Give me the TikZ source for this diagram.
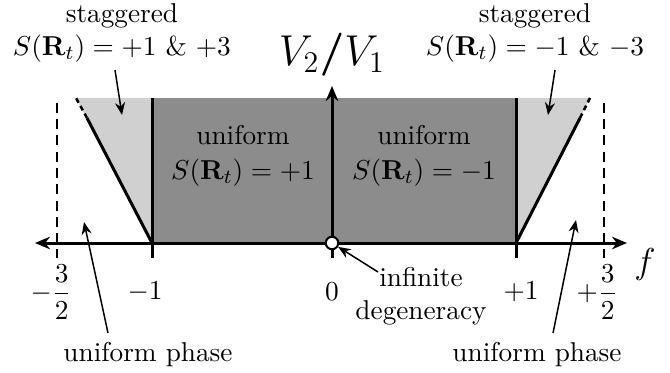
\documentclass[tikz,border=0pt]{standalone}
\usepackage{amsmath,bm}
\usetikzlibrary{arrows.meta}
\definecolor{darkreg}{HTML}{8C8C8C}
\definecolor{lightreg}{HTML}{D0D0D0}
\begin{document}
\begin{tikzpicture}[x=0.4pt,y=-0.4pt,
  axis/.style={line width=1.2pt,-{Stealth[length=6pt,width=5pt]}},
  pointer/.style={line width=0.6pt,-{Stealth[length=5pt,width=4pt]}},
  bound/.style={line width=1.2pt},
  lbl/.style={inner sep=0pt,font=\fontsize{10.9pt}{13pt}\selectfont}]
\useasboundingbox (0,0) rectangle (670,372);
% regions
\fill[darkreg] (152,98) rectangle (516,243);
\fill[lightreg] (76,98) -- (152,98) -- (152,243) -- cycle;
\fill[lightreg] (516,98) -- (590,98) -- (516,243) -- cycle;
% boundaries
\coordinate (lb) at (152,243);
\coordinate (lm) at (87,118);
\coordinate (lt) at (76,98);
\coordinate (rb) at (516,243);
\coordinate (rm) at (580,118);
\coordinate (rt) at (590,98);
\draw[bound] (lb) -- (lm);
\draw[line width=1pt,dash pattern=on 2pt off 1.5pt] (lm) -- (lt);
\draw[bound] (rb) -- (rm);
\draw[line width=1pt,dash pattern=on 2pt off 1.5pt] (rm) -- (rt);
\draw[bound] (152,98) -- (152,258);
\draw[bound] (516,98) -- (516,258);
\draw[bound] (332,243) -- (332,258);
% dashed f=+-3/2
\draw[line width=1.1pt,dash pattern=on 4pt off 2.5pt] (57,103) -- (57,258);
\draw[line width=1.1pt,dash pattern=on 4pt off 2.5pt] (604,103) -- (604,258);
% axes
\coordinate (o) at (332,243);
\coordinate (xl) at (35,243);
\coordinate (xr) at (627,243);
\coordinate (yt) at (332,86);
\draw[axis] (o) -- (xl);
\draw[axis] (o) -- (xr);
\draw[axis] (o) -- (yt);
\node[circle,draw,fill=white,line width=0.8pt,minimum size=5pt,inner sep=0pt] (c) at (o) {};
% axis labels
\node[lbl,font=\LARGE] (v) at (332,55) {$V_2\bm{/}V_1$};
\node[lbl,font=\Large] (f) at (645,264) {$f$};
\node[lbl] (m1) at (145,292) {$-1$};
\node[lbl] (p1) at (521,292) {$+1$};
\node[lbl] (z) at (332,292) {$0$};
\node[lbl] (m32) at (51,292) {$-\dfrac{3}{2}$};
\node[lbl] (p32) at (597,292) {$+\dfrac{3}{2}$};
% region labels
\node[lbl,align=center] (ul) at (243,156) {uniform\\[1pt]$S(\mathbf{R}_t)=+1$};
\node[lbl,align=center] (ur) at (424,156) {uniform\\[1pt]$S(\mathbf{R}_t)=-1$};
\node[lbl,align=center] (sl) at (122,33) {staggered\\[0pt]$S(\mathbf{R}_t)=+1\ \&\ {+3}$};
\node[lbl,align=center] (sr) at (535,33) {staggered\\[0pt]$S(\mathbf{R}_t)=-1\ \&\ {-3}$};
\node[lbl] (upl) at (148,355) {uniform phase};
\node[lbl] (upr) at (537,355) {uniform phase};
\node[lbl,align=center] (deg) at (421,296) {infinite\\degeneracy};
% pointers
\coordinate (slt) at (122,115);
\coordinate (srt) at (548,115);
\coordinate (uplt) at (84,222);
\coordinate (uprt) at (576,220);
\draw[pointer] (115,70) -- (slt);
\draw[pointer] (555,70) -- (srt);
\draw[pointer] (108,333) -- (uplt);
\draw[pointer] (553,333) -- (uprt);
\draw[pointer] (378,272) -- (c);
\end{tikzpicture}
\end{document}
